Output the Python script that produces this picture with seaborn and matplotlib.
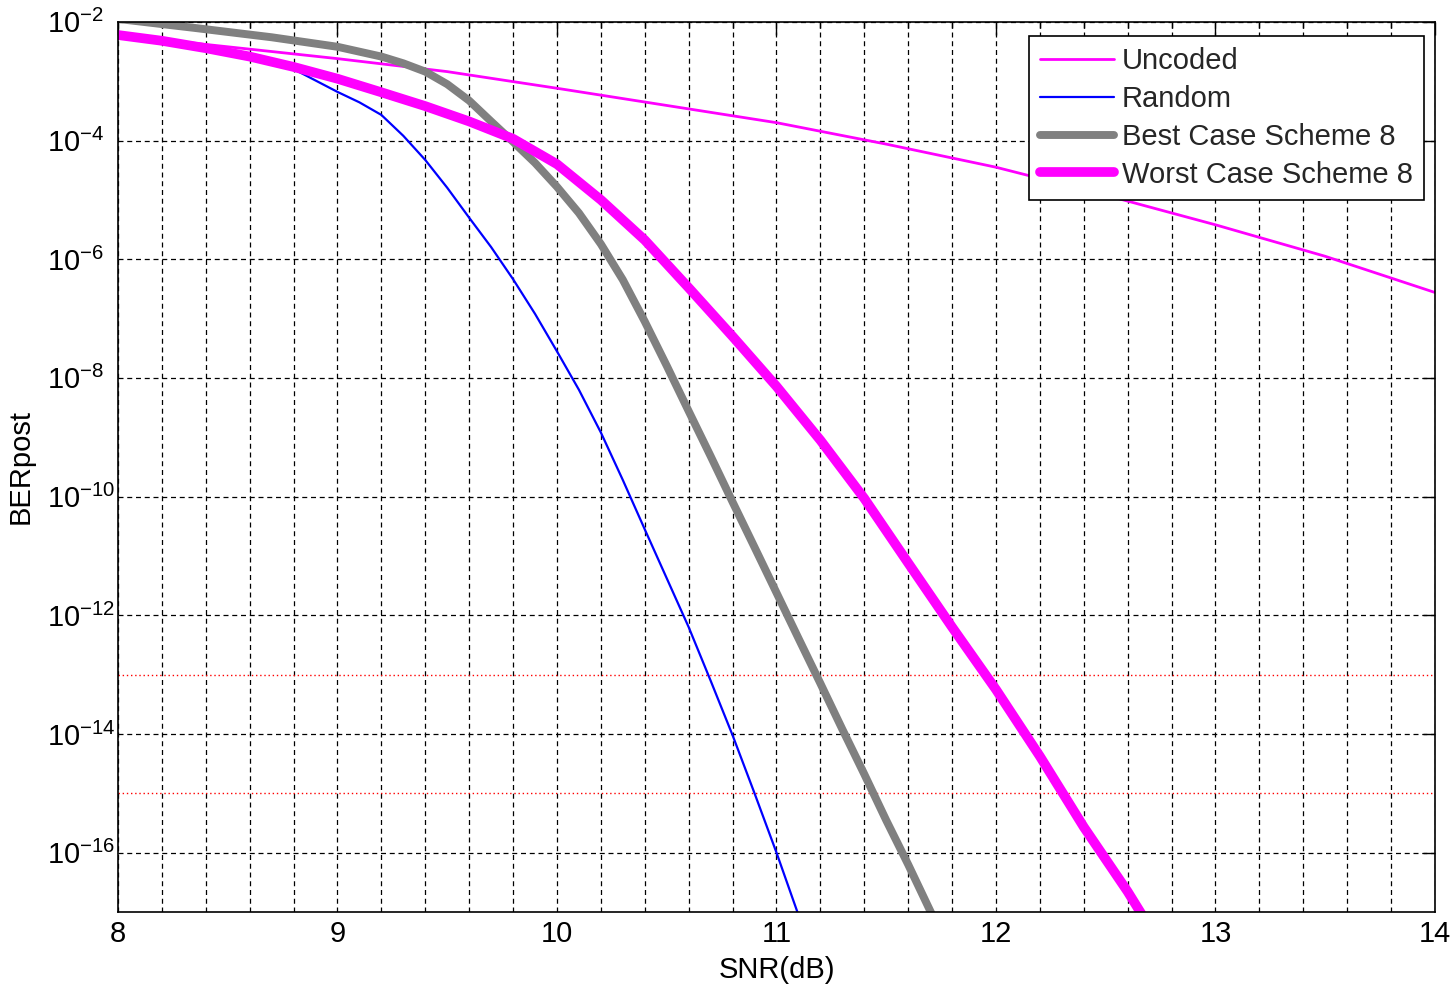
import matplotlib
matplotlib.use("Agg")
import matplotlib.pyplot as plt
from matplotlib.ticker import MultipleLocator, NullLocator
import pandas as pd
import seaborn as sns

# values (SNR in dB, post-decoding BER)
snr_uncoded = [8.0, 8.5, 9.0, 9.5, 10.0, 10.5, 11.0, 11.5, 12.0, 12.5, 13.0, 13.5, 14.0]
ber_uncoded = [6.0e-3, 3.8e-3, 2.4e-3, 1.45e-3, 7.6e-4, 3.9e-4, 2.0e-4, 8.7e-5,
               3.55e-5, 1.2e-5, 3.8e-6, 1.12e-6, 2.75e-7]

snr_random = [8.0, 8.2, 8.4, 8.6, 8.8, 9.0, 9.1, 9.2, 9.3, 9.4, 9.5, 9.6, 9.7, 9.8,
              9.9, 10.0, 10.1, 10.2, 10.3, 10.4, 10.5, 10.6, 10.7, 10.8, 10.9, 11.0,
              11.1, 11.2]
ber_random = [6.0e-3, 4.9e-3, 3.7e-3, 2.6e-3, 1.6e-3, 6.6e-4, 4.4e-4, 2.7e-4,
              1.2e-4, 4.7e-5, 1.6e-5, 5.0e-6, 1.6e-6, 4.6e-7, 1.2e-7, 2.8e-8,
              6.3e-9, 1.2e-9, 1.9e-10, 2.8e-11, 4.2e-12, 6.3e-13, 7.9e-14, 9.5e-15,
              1.0e-15, 1.0e-16, 8.9e-18, 7.9e-19]

snr_best = [8.0, 8.35, 8.7, 9.0, 9.2, 9.3, 9.4, 9.5, 9.6, 9.7, 9.8, 9.9, 10.0, 10.1,
            10.2, 10.3, 10.4, 10.5, 10.6, 10.7, 10.8, 10.9, 11.0, 11.1, 11.2, 11.3,
            11.4, 11.5, 11.6, 11.7, 11.8]
ber_best = [1.12e-2, 7.9e-3, 5.5e-3, 3.8e-3, 2.6e-3, 2.0e-3, 1.45e-3, 8.9e-4,
            4.7e-4, 2.1e-4, 9.5e-5, 4.2e-5, 1.66e-5, 6.0e-6, 1.8e-6, 4.5e-7,
            8.9e-8, 1.6e-8, 2.75e-9, 4.8e-10, 8.1e-11, 1.4e-11, 2.4e-12, 4.1e-13,
            7.1e-14, 1.2e-14, 2.1e-15, 3.5e-16, 6.3e-17, 1.05e-17, 1.8e-18]

snr_worst = [8.0, 8.2, 8.4, 8.6, 8.8, 9.0, 9.2, 9.4, 9.6, 9.8, 10.0, 10.2, 10.4,
             10.6, 10.8, 11.0, 11.2, 11.4, 11.6, 11.8, 12.0, 12.2, 12.4, 12.6, 12.8]
ber_worst = [6.0e-3, 4.8e-3, 3.6e-3, 2.6e-3, 1.74e-3, 1.1e-3, 6.5e-4, 3.8e-4,
             2.1e-4, 1.07e-4, 4.0e-5, 1.0e-5, 2.1e-6, 3.3e-7, 5.0e-8, 7.2e-9,
             8.9e-10, 9.3e-11, 7.6e-12, 6.3e-13, 5.6e-14, 4.2e-15, 2.7e-16,
             2.2e-17, 1.4e-18]

ber_targets = [1e-13, 1e-15]
y_ticks = [1e-16, 1e-14, 1e-12, 1e-10, 1e-8, 1e-6, 1e-4, 1e-2]

sns.set_theme(style="white")
plt.rcParams['font.family'] = ['Liberation Sans', 'DejaVu Sans']
plt.rcParams['mathtext.fontset'] = 'custom'
plt.rcParams['mathtext.rm'] = 'Liberation Sans'
plt.rcParams['mathtext.it'] = 'Liberation Sans:italic'
plt.rcParams['mathtext.bf'] = 'Liberation Sans:bold'
plt.rcParams['axes.unicode_minus'] = False

fig = plt.figure(figsize=(14.53, 9.89), dpi=100)
ax = fig.add_axes([0.0812, 0.0779, 0.9064, 0.9])

series = [
    ("Uncoded", snr_uncoded, ber_uncoded, "#ff00ff", 2.0),
    ("Random", snr_random, ber_random, "#0000ff", 1.6),
    ("Best Case Scheme 8", snr_best, ber_best, "#808080", 5.7),
    ("Worst Case Scheme 8", snr_worst, ber_worst, "#ff00ff", 7.0),
]
for name, xs, ys, col, lw in series:
    df = pd.DataFrame({"SNR": xs, "BER": ys})
    sns.lineplot(data=df, x="SNR", y="BER", ax=ax, color=col, linewidth=lw,
                 label=name, sort=False)

for t in ber_targets:
    ax.axhline(t, color="#ff0000", linestyle=(0, (1, 2)), linewidth=1.0, zorder=1)

ax.set_yscale("log")
ax.set_xlim(8, 14)
ax.set_ylim(1e-17, 1e-2)
ax.set_yticks(y_ticks)
ax.yaxis.set_minor_locator(NullLocator())
ax.xaxis.set_major_locator(MultipleLocator(1))
ax.xaxis.set_minor_locator(MultipleLocator(0.2))

grid_kw = dict(color="black", linewidth=0.9, linestyle=(0, (4, 3)))
ax.grid(True, which="both", axis="x", **grid_kw)
ax.grid(True, which="major", axis="y", **grid_kw)
ax.set_axisbelow(True)

for sp in ax.spines.values():
    sp.set_color("black")
    sp.set_linewidth(1.2)

ax.tick_params(which="both", direction="in", top=True, right=True,
               color="black", width=1.0, labelcolor="black", labelsize=21)
ax.tick_params(which="major", length=9)
ax.tick_params(which="minor", length=4.5)
ax.tick_params(axis="x", which="major", pad=6)
ax.tick_params(axis="y", which="major", pad=51)
plt.setp(ax.get_yticklabels(), ha="left")

ax.set_xlabel("SNR(dB)", fontsize=21, color="black")
ax.set_ylabel("BERpost", fontsize=21, color="black")
ax.xaxis.set_label_coords(0.5, -0.05)
ax.yaxis.set_label_coords(-0.063, 0.5)

leg = ax.legend(loc="upper right", bbox_to_anchor=(0.9916, 0.9843), borderaxespad=0,
                fontsize=21, frameon=True, fancybox=False, framealpha=1,
                edgecolor="black", borderpad=0.38, labelspacing=0.34,
                handlelength=2.53, handletextpad=0.27)
leg.get_frame().set_linewidth(1.2)

fig.savefig("out.png", dpi=100)
